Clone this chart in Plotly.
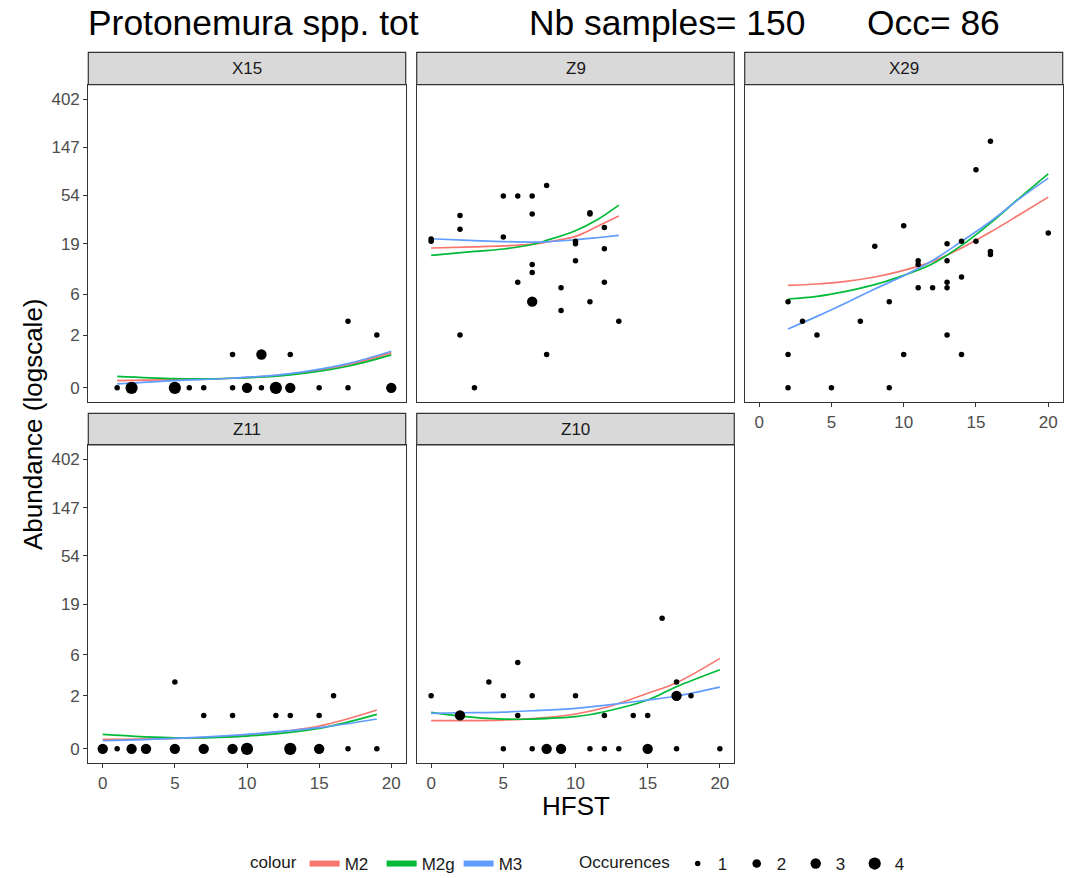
import numpy as np
import plotly.graph_objects as go

W, H = 1078, 878

# ---------------- data ----------------
panels = ["X15", "Z9", "X29", "Z11", "Z10"]

# observed points: HFST, abundance, number of occurrences
x15_x = [1, 2, 5, 6, 7, 9, 10, 11, 12, 13, 15, 17, 20, 9, 11, 13, 17, 19]
x15_ab = [0, 0, 0, 0, 0, 0, 0, 0, 0, 0, 0, 0, 0, 1, 1, 1, 3, 2]
x15_occ = [1, 4, 4, 1, 1, 1, 3, 1, 4, 3, 1, 1, 3, 1, 3, 1, 1, 1]

z9_x = [0, 0, 2, 2, 2, 3, 5, 6, 7, 5, 7, 8, 7, 7, 6, 7, 9, 9, 8, 10, 10, 10, 11, 11, 11, 12, 12, 12, 13]
z9_ab = [20, 21, 35, 26, 2, 0, 53, 53, 53, 22, 36, 66, 12, 10, 8, 5, 7, 4, 1, 19, 20, 13, 36, 37, 5, 27, 17, 8, 3]
z9_occ = [1, 1, 1, 1, 1, 1, 1, 1, 1, 1, 1, 1, 1, 1, 1, 3, 1, 1, 1, 1, 1, 1, 1, 1, 1, 1, 1, 1, 1]

x29_x = [2, 5, 9, 2, 10, 14, 4, 13, 3, 7, 2, 9, 11, 12, 13, 13, 14, 11, 11, 13, 8, 10, 13, 14, 15, 16, 16, 15, 16, 20]
x29_ab = [0, 0, 0, 1, 1, 1, 2, 2, 3, 3, 5, 5, 7, 7, 7, 8, 9, 13, 12, 13, 18, 28, 19, 20, 20, 16, 15, 92, 167, 24]
x29_occ = [1] * 30

z11_x = [0, 1, 2, 3, 5, 7, 9, 10, 13, 15, 17, 19, 5, 7, 9, 12, 13, 15, 16]
z11_ab = [0, 0, 0, 0, 0, 0, 0, 0, 0, 0, 0, 0, 3, 1, 1, 1, 1, 1, 2]
z11_occ = [3, 1, 3, 3, 3, 3, 3, 4, 4, 3, 1, 1, 1, 1, 1, 1, 1, 1, 1]

z10_x = [5, 7, 8, 9, 11, 12, 13, 15, 17, 20, 2, 6, 12, 14, 15, 0, 5, 7, 10, 17, 18, 4, 17, 6, 16]
z10_ab = [0, 0, 0, 0, 0, 0, 0, 0, 0, 0, 1, 1, 1, 1, 1, 2, 2, 2, 2, 2, 2, 3, 3, 5, 14]
z10_occ = [1, 1, 3, 3, 1, 1, 1, 3, 1, 1, 3, 1, 1, 1, 1, 1, 1, 1, 1, 3, 1, 1, 1, 1, 1]

# fitted model curves, read as log(1+abundance) at sample HFST values
x15_cx = [1, 5, 9, 13, 17, 20]
x15_m2 = [0.15, 0.17, 0.20, 0.285, 0.48, 0.726]
x15_m2g = [0.24, 0.193, 0.20, 0.27, 0.45, 0.685]
x15_m3 = [0.083, 0.15, 0.20, 0.297, 0.504, 0.76]

z9_cx = [0, 3, 5, 7, 8, 10, 11.5, 13]
z9_m2 = [2.906, 2.93, 2.95, 2.989, 3.03, 3.147, 3.354, 3.57]
z9_m2g = [2.752, 2.835, 2.885, 2.98, 3.064, 3.265, 3.493, 3.798]
z9_m3 = [3.099, 3.06, 3.04, 3.03, 3.035, 3.078, 3.12, 3.167]

x29_cx = [2, 4, 6, 8, 10, 12, 14, 16, 18, 20]
x29_m2 = [2.13, 2.158, 2.213, 2.304, 2.441, 2.628, 2.906, 3.238, 3.597, 3.964]
x29_m2g = [1.847, 1.901, 2.005, 2.144, 2.337, 2.58, 2.96, 3.425, 3.944, 4.448]
x29_m3 = [1.225, 1.486, 1.764, 2.055, 2.331, 2.648, 3.043, 3.458, 3.929, 4.359]

z11_cx = [0, 5, 10, 15, 19]
z11_m2 = [0.197, 0.218, 0.286, 0.473, 0.805]
z11_m2g = [0.30, 0.23, 0.265, 0.425, 0.715]
z11_m3 = [0.168, 0.218, 0.30, 0.438, 0.618]

z10_cx = [0, 2, 5, 7, 10, 12, 15, 17, 20]
z10_m2 = [0.583, 0.585, 0.597, 0.625, 0.722, 0.852, 1.151, 1.371, 1.876]
z10_m2g = [0.757, 0.68, 0.618, 0.618, 0.666, 0.769, 1.012, 1.288, 1.64]
z10_m3 = [0.736, 0.748, 0.763, 0.79, 0.84, 0.902, 1.012, 1.095, 1.281]

y_tick_labels = [0, 2, 6, 19, 54, 147, 402]
x_tick_vals = [0, 5, 10, 15, 20]

models = ["M2", "M2g", "M3"]
model_colors = {"M2": "#F8766D", "M2g": "#00BA38", "M3": "#619CFF"}
occ_levels = [1, 2, 3, 4]
occ_px = {1: 5.5, 2: 8.6, 3: 10.4, 4: 12.2}

points = {
    "X15": (x15_x, x15_ab, x15_occ),
    "Z9": (z9_x, z9_ab, z9_occ),
    "X29": (x29_x, x29_ab, x29_occ),
    "Z11": (z11_x, z11_ab, z11_occ),
    "Z10": (z10_x, z10_ab, z10_occ),
}
curves = {
    "X15": (x15_cx, {"M2": x15_m2, "M2g": x15_m2g, "M3": x15_m3}),
    "Z9": (z9_cx, {"M2": z9_m2, "M2g": z9_m2g, "M3": z9_m3}),
    "X29": (x29_cx, {"M2": x29_m2, "M2g": x29_m2g, "M3": x29_m3}),
    "Z11": (z11_cx, {"M2": z11_m2, "M2g": z11_m2g, "M3": z11_m3}),
    "Z10": (z10_cx, {"M2": z10_m2, "M2g": z10_m2g, "M3": z10_m3}),
}

# ---------------- layout geometry (window pixels) ----------------
col_x = [(88.3, 405.7), (416.7, 734.3), (744.7, 1062.7)]
row_y = [(84.7, 402.3), (445.0, 763.3)]
strip_y = [(52.3, 84.7), (413.3, 445.0)]
pos = {"X15": (0, 0), "Z9": (0, 1), "X29": (0, 2), "Z11": (1, 0), "Z10": (1, 1)}


def px(x):
    return x / W


def py(y):
    return 1 - y / H


fig = go.Figure()
layout = dict(
    width=W, height=H,
    margin=dict(l=0, r=0, t=0, b=0, autoexpand=False),
    paper_bgcolor="white", plot_bgcolor="white",
    font=dict(family="Liberation Sans, Arial, sans-serif", color="#1A1A1A"),
    showlegend=True,
)
shapes = []
annotations = []

for i, name in enumerate(panels):
    r, c = pos[name]
    k = "" if i == 0 else str(i + 1)
    xa, ya = "x" + k, "y" + k
    show_y = c == 0
    show_x = name in ("X29", "Z11", "Z10")
    layout["xaxis" + k] = dict(
        domain=[px(col_x[c][0]), px(col_x[c][1])], anchor=ya,
        range=[-1, 21], showgrid=False, zeroline=False,
        showline=True, mirror=True, linecolor="#333333", linewidth=1.2,
        tickvals=x_tick_vals, ticks="outside" if show_x else "",
        ticklen=4, tickcolor="#333333", tickwidth=1.1,
        showticklabels=show_x,
        tickfont=dict(size=17, color="#4D4D4D"),
    )
    layout["yaxis" + k] = dict(
        domain=[py(row_y[r][1]), py(row_y[r][0])], anchor=xa,
        range=[-0.3, 6.3], showgrid=False, zeroline=False,
        showline=True, mirror=True, linecolor="#333333", linewidth=1.2,
        tickvals=list(np.log1p(y_tick_labels)),
        ticktext=[str(v) for v in y_tick_labels],
        ticks="outside" if show_y else "",
        ticklen=4, tickcolor="#333333", tickwidth=1.1,
        showticklabels=show_y,
        tickfont=dict(size=17, color="#4D4D4D"),
    )
    # strip
    shapes.append(dict(
        type="rect", xref="paper", yref="paper",
        x0=px(col_x[c][0]), x1=px(col_x[c][1]),
        y0=py(strip_y[r][1]), y1=py(strip_y[r][0]),
        fillcolor="#D9D9D9", line=dict(color="#333333", width=1.2), layer="below",
    ))
    annotations.append(dict(
        text=name, xref="paper", yref="paper",
        x=px((col_x[c][0] + col_x[c][1]) / 2), y=py((strip_y[r][0] + strip_y[r][1]) / 2),
        xanchor="center", yanchor="middle", showarrow=False,
        font=dict(size=17, color="#1A1A1A"),
    ))

    # curves
    cx, cdict = curves[name]
    for m in models:
        fig.add_trace(go.Scatter(
            x=cx, y=cdict[m], mode="lines", line=dict(color=model_colors[m], width=1.7, shape="spline"),
            xaxis=xa, yaxis=ya, showlegend=False, hoverinfo="skip",
        ))
    # points
    ptx, pab, pocc = points[name]
    fig.add_trace(go.Scatter(
        x=ptx, y=np.log1p(pab), mode="markers",
        marker=dict(color="black", opacity=1, size=[occ_px[o] for o in pocc], line=dict(width=0)),
        xaxis=xa, yaxis=ya, showlegend=False,
    ))

# legend entries (colour)
for m in models:
    fig.add_trace(go.Scatter(
        x=[None], y=[None], mode="lines", name=m,
        line=dict(color=model_colors[m], width=6), legend="legend",
    ))
# legend entries (Occurences)
for o in occ_levels:
    fig.add_trace(go.Scatter(
        x=[None], y=[None], mode="markers", name=str(o),
        marker=dict(color="black", opacity=1, size=occ_px[o]), legend="legend2",
    ))

layout["legend"] = dict(
    orientation="h", x=px(248), y=py(864), xanchor="left", yanchor="middle",
    title=dict(text="colour", side="left", font=dict(size=17, color="#1A1A1A")),
    font=dict(size=17, color="#1A1A1A"), itemwidth=30, entrywidth=32,
    bgcolor="rgba(0,0,0,0)",
)
layout["legend2"] = dict(
    orientation="h", x=px(577), y=py(864), xanchor="left", yanchor="middle",
    title=dict(text="Occurences", side="left", font=dict(size=17, color="#1A1A1A")),
    font=dict(size=17, color="#1A1A1A"), itemwidth=30, entrywidth=14,
    bgcolor="rgba(0,0,0,0)",
)

# title pieces
for txt, xl in [("Protonemura spp. tot", 86), ("Nb samples= 150", 527), ("Occ= 86", 865)]:
    annotations.append(dict(
        text=txt, xref="paper", yref="paper", x=px(xl), y=py(23),
        xanchor="left", yanchor="middle", showarrow=False,
        font=dict(size=35.4, color="black"),
    ))
# axis titles
annotations.append(dict(
    text="HFST", xref="paper", yref="paper", x=px(575.5), y=py(805.5),
    xanchor="center", yanchor="middle", showarrow=False,
    font=dict(size=26, color="black"),
))
annotations.append(dict(
    text="Abundance (logscale)", xref="paper", yref="paper", x=px(33), y=py(424),
    xanchor="center", yanchor="middle", showarrow=False, textangle=-90,
    font=dict(size=26, color="black"),
))

layout["shapes"] = shapes
layout["annotations"] = annotations
fig.update_layout(**layout)
fig.write_html("out.html", config={"displayModeBar": False},
               post_script="document.body.style.margin='0';")
